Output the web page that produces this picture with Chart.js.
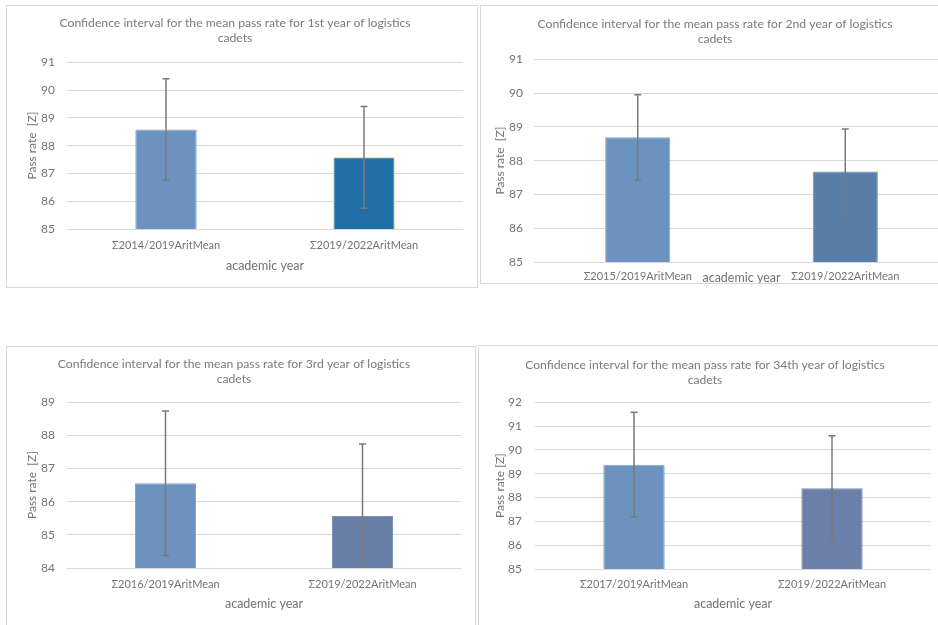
<!DOCTYPE html>
<html>
<head>
<meta charset="utf-8">
<script src="https://cdn.jsdelivr.net/npm/chart.js@4"></script>
<style>
  html, body { margin: 0; padding: 0; background: #fff; overflow: hidden; }
  body { width: 938px; height: 625px; position: relative; }
  .panel { position: absolute; border: 1px solid #d9d9d9; box-sizing: border-box; background: #fff; }
  .panel > div { position: absolute; left: 0; top: 0; right: 0; bottom: 0; }
</style>
</head>
<body>
<div class="panel" style="left:6px;top:5px;width:472px;height:283px"><div><canvas id="c1"></canvas></div></div>
<div class="panel" style="left:480px;top:5px;width:470px;height:279px"><div><canvas id="c2"></canvas></div></div>
<div class="panel" style="left:6px;top:346px;width:470px;height:290px"><div><canvas id="c3"></canvas></div></div>
<div class="panel" style="left:478px;top:345px;width:462px;height:290px"><div><canvas id="c4"></canvas></div></div>
<script>
// --- data -------------------------------------------------------------------
const titles = [
  ['Confidence interval for the mean pass rate for 1st year of logistics', 'cadets'],
  ['Confidence interval for the mean pass rate for 2nd year of logistics', 'cadets'],
  ['Confidence interval for the mean pass rate for 3rd year of logistics', 'cadets'],
  ['Confidence interval for the mean pass rate for 34th year of logistics', 'cadets']
];
const yTitles = ['Pass rate  [Z]', 'Pass rate  [Z]', 'Pass rate  [Z]', 'Pass rate [Z]'];
const xTitle = 'academic year';

const cats1 = ['Σ2014/2019AritMean', 'Σ2019/2022AritMean'];
const cats2 = ['Σ2015/2019AritMean', 'Σ2019/2022AritMean'];
const cats3 = ['Σ2016/2019AritMean', 'Σ2019/2022AritMean'];
const cats4 = ['Σ2017/2019AritMean', 'Σ2019/2022AritMean'];

// arithmetic means
const means1 = [88.58, 87.58];
const means2 = [88.69, 87.68];
const means3 = [86.56, 85.57];
const means4 = [89.38, 88.39];

// confidence interval half-widths
const ci1 = [1.83, 1.83];
const ci2 = [1.26, 1.26];
const ci3 = [2.18, 2.17];
const ci4 = [2.20, 2.20];

// y axis ranges
const yRange1 = [85, 91];
const yRange2 = [85, 91];
const yRange3 = [84, 89];
const yRange4 = [85, 92];

// --- error bars -------------------------------------------------------------
const errorBars = {
  id: 'errorBars',
  afterDatasetsDraw(chart, args, opts) {
    const { ctx, chartArea, scales: { y } } = chart;
    const meta = chart.getDatasetMeta(0);
    const means = chart.data.datasets[0].data;
    ctx.save();
    ctx.beginPath();
    ctx.rect(chartArea.left, chartArea.top, chartArea.right - chartArea.left, chartArea.bottom - chartArea.top);
    ctx.clip();
    ctx.strokeStyle = '#7a7a7a';
    ctx.lineWidth = 1.5;
    meta.data.forEach((bar, i) => {
      const hi = y.getPixelForValue(means[i] + opts.ci[i]);
      const lo = y.getPixelForValue(means[i] - opts.ci[i]);
      ctx.beginPath();
      ctx.moveTo(bar.x, hi); ctx.lineTo(bar.x, lo);
      ctx.moveTo(bar.x - 3.5, hi); ctx.lineTo(bar.x + 3.5, hi);
      ctx.moveTo(bar.x - 3.5, lo); ctx.lineTo(bar.x + 3.5, lo);
      ctx.stroke();
    });
    ctx.restore();
  }
};

Chart.defaults.font.family = 'Lato, "Open Sans", sans-serif';
Chart.defaults.color = '#737373';
Chart.defaults.animation = false;

function makeChart(id, o) {
  return new Chart(document.getElementById(id), {
    type: 'bar',
    data: {
      labels: o.cats,
      datasets: [{
        data: o.means,
        backgroundColor: o.colors,
        borderColor: o.borders,
        borderWidth: 1,
        categoryPercentage: 1,
        barPercentage: o.barPct
      }]
    },
    plugins: [errorBars],
    options: {
      responsive: true,
      maintainAspectRatio: false,
      layout: { padding: { left: 0, right: o.padRight, top: 0, bottom: o.padBottom } },
      plugins: {
        legend: { display: false },
        tooltip: { enabled: false },
        title: {
          display: true, text: o.title, color: '#7a7a7a',
          font: { size: 12.2, weight: 'normal' },
          padding: { top: o.titleTop, bottom: o.titleBottom }
        },
        errorBars: { ci: o.ci }
      },
      scales: {
        x: {
          grid: { display: false, drawTicks: false },
          border: { display: false },
          ticks: { color: '#737373', font: { size: 11 }, padding: o.xTickPad, maxRotation: 0, autoSkip: false },
          title: { display: true, text: xTitle, color: '#737373', font: { size: 12.5 }, padding: { top: 0, bottom: o.xTitlePad } },
          afterFit: s => { s.height = o.xHeight; }
        },
        y: {
          min: o.yRange[0], max: o.yRange[1],
          grid: { color: '#d9d9d9', drawTicks: false, lineWidth: 1 },
          border: { display: false },
          ticks: { stepSize: 1, color: '#737373', font: { size: 12 }, padding: o.yTickPad },
          title: { display: true, text: o.yTitle, color: '#737373', font: { size: 12 }, padding: { top: o.yTitlePad } },
          afterFit: s => { s.width = o.yWidth; }
        }
      }
    }
  });
}

makeChart('c1', {
  cats: cats1, means: means1, ci: ci1, yRange: yRange1, title: titles[0], yTitle: yTitles[0],
  colors: ['#6c93bf', '#2070a7'], borders: ['#7fa2c9', '#b4c98c'], barPct: 0.31,
  padRight: 14, padBottom: 14, titleTop: 10, titleBottom: 17,
  xTickPad: 10, xTitlePad: 0, xHeight: 44, yTickPad: 12, yTitlePad: 18, yWidth: 60
});
makeChart('c2', {
  cats: cats2, means: means2, ci: ci2, yRange: yRange2, title: titles[1], yTitle: yTitles[1],
  colors: ['#6c93bf', '#587fa7'], borders: ['#7fa2c9', '#6a8db2'], barPct: 0.314,
  padRight: 0, padBottom: 0, titleTop: 11, titleBottom: 13,
  xTickPad: 8, xTitlePad: -2, xHeight: 21, yTickPad: 11, yTitlePad: 12, yWidth: 53
});
makeChart('c3', {
  cats: cats3, means: means3, ci: ci3, yRange: yRange3, title: titles[2], yTitle: yTitles[2],
  colors: ['#6c93bf', '#6880a8'], borders: ['#7fa2c9', '#7a8fb4'], barPct: 0.31,
  padRight: 14, padBottom: 22, titleTop: 10, titleBottom: 16,
  xTickPad: 10, xTitlePad: 2, xHeight: 45, yTickPad: 12, yTitlePad: 18, yWidth: 60
});
makeChart('c4', {
  cats: cats4, means: means4, ci: ci4, yRange: yRange4, title: titles[3], yTitle: yTitles[3],
  colors: ['#6c93bf', '#6a80aa'], borders: ['#7fa2c9', '#7b8fb5'], barPct: 0.31,
  padRight: 8, padBottom: 20, titleTop: 12, titleBottom: 15,
  xTickPad: 9, xTitlePad: 3, xHeight: 45, yTickPad: 13, yTitlePad: 14, yWidth: 56
});
</script>
</body>
</html>
